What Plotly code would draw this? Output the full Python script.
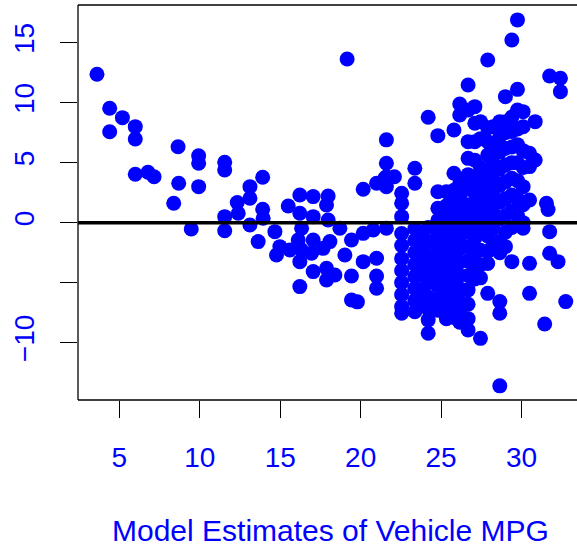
import plotly.graph_objects as go

# Fitted values (x) and residuals (y) of the mpg ~ horsepower model
fitted = [
    # low fitted values
    3.61, 4.40, 5.19, 5.99, 4.40, 5.99, 8.65, 9.93, 9.93, 11.55, 11.55, 5.99, 6.78, 7.16,
    8.69, 9.93, 8.38, 9.47, 11.55, 11.55, 12.33,
    # 13 - 21
    13.91, 13.12, 13.12, 12.39, 13.91, 13.94, 13.12, 13.63, 14.67, 15.50, 16.22, 17.05, 17.98,
    17.88, 16.22, 17.05, 17.98, 18.71, 16.33, 14.98, 14.77, 15.60, 16.12, 16.33, 17.05, 18.09,
    16.95, 17.67, 16.22, 17.05, 17.88, 17.88, 18.40, 16.22, 19.02, 19.43, 20.16, 20.78, 20.16,
    20.99, 19.43, 20.99, 20.99, 19.43, 19.80, 20.16, 20.99, 21.50, 19.16,
    # 21.6 - 22.1
    21.6, 21.6, 21.6, 21.6, 21.6, 22.1,
    # 22.55
    22.55, 22.55, 22.55, 22.55, 22.55, 22.55, 22.55, 22.55, 22.55, 22.55, 22.55,
    # 23.37
    23.37, 23.37, 23.37, 23.37, 23.37, 23.37, 23.37, 23.37, 23.37, 23.37,
    # 23.8
    23.8, 23.8, 23.8, 23.8, 23.8, 23.8,
    # 24.2
    24.2, 24.2, 24.2, 24.2, 24.2, 24.2, 24.2, 24.2, 24.2, 24.2,
    # 24.8
    24.8, 24.8, 24.8, 24.8, 24.8, 24.8, 24.8, 24.8, 24.8, 24.8, 24.8,
    # 25.33
    25.33, 25.33, 25.33, 25.33, 25.33, 25.33, 25.33, 25.33, 25.33, 25.33, 25.33,
    # 25.8
    25.8, 25.8, 25.8, 25.8, 25.8, 25.8, 25.8, 25.8, 25.8, 25.8, 25.8, 25.8, 25.8,
    # 26.16
    26.16, 26.16, 26.16, 26.16, 26.16, 26.16, 26.16, 26.16, 26.16, 26.16, 26.16, 26.16,
    26.16, 26.16,
    # 26.68
    26.68, 26.68, 26.68, 26.68, 26.68, 26.68, 26.68, 26.68, 26.68, 26.68, 26.68, 26.68,
    26.68, 26.68, 26.68, 26.68,
    # 27.1
    27.1, 27.1, 27.1, 27.1, 27.1, 27.1, 27.1, 27.1, 27.1, 27.1, 27.1, 27.1,
    # 27.45
    27.45, 27.45, 27.45, 27.45, 27.45, 27.45, 27.45, 27.45, 27.45, 27.45, 27.45,
    # 27.9
    27.9, 27.9, 27.9, 27.9, 27.9, 27.9, 27.9, 27.9, 27.9, 27.9, 27.9, 27.9,
    # 28.23
    28.23, 28.23, 28.23, 28.23, 28.23, 28.23, 28.23, 28.23,
    # 28.65
    28.65, 28.65, 28.65, 28.65, 28.65, 28.65, 28.65, 28.65, 28.65, 28.65, 28.65, 28.65,
    # 29.0
    29.0, 29.0, 29.0, 29.0, 29.0, 29.0, 29.0, 29.0, 29.0, 29.0,
    # 29.4
    29.4, 29.4, 29.4, 29.4, 29.4, 29.4, 29.4, 29.4, 29.4, 29.4,
    # 29.75
    29.75, 29.75, 29.75, 29.75, 29.75, 29.75, 29.75, 29.75, 29.75,
    # 30.1
    30.1, 30.1, 30.1, 30.1, 30.1, 30.1, 30.1, 30.1,
    # 30.5 - 30.85
    30.5, 30.5, 30.5, 30.5, 30.5, 30.85, 30.85,
    # high fitted values
    31.75, 32.42, 32.42, 31.55, 31.65, 31.75, 31.75, 32.27, 32.75, 31.44,
]

residuals = [
    12.37, 9.53, 8.75, 8.00, 7.58, 6.97, 6.33, 5.58, 4.95, 5.03, 4.39, 4.03, 4.20, 3.83,
    3.28, 3.00, 1.62, -0.53, 0.50, -0.67, 1.68,
    3.78, 3.00, 2.03, 0.78, 1.12, 0.37, -0.19, -1.58, -0.75, 1.39, 2.31, 2.17, 2.22,
    1.47, 0.78, 0.50, 0.22, -0.47, -0.47, -2.00, -2.69, -2.28, -1.44, -2.28, -1.44, -1.58,
    -2.55, -2.14, -3.25, -4.08, -3.80, -4.78, -4.36, -5.33, -2.69, -1.44, -0.89, -0.61, -3.25,
    -2.97, -4.44, -4.44, -5.47, -6.44, -6.60, 2.78, 3.28, 3.70, 13.64,
    6.90, 4.95, 3.83, 3.00, -0.47, 3.83,
    2.45, 1.62, 0.50, -0.90, -1.90, -3.00, -4.00, -5.00, -6.00, -7.00, -7.55,
    4.53, 3.28, -0.50, -1.50, -2.50, -3.50, -4.50, -5.50, -6.50, -7.42,
    -1.00, -2.20, -3.30, -4.40, -5.60, -6.70,
    8.78, -0.40, -1.60, -2.80, -3.90, -5.00, -6.20, -7.20, -8.10, -9.22,
    7.25, 2.58, 1.20, 0.20, -0.90, -2.00, -3.10, -4.20, -5.30, -6.40, -7.30,
    2.58, 1.40, 0.40, -0.70, -1.80, -2.90, -4.00, -5.10, -6.20, -7.20, -8.00,
    7.72, 4.12, 2.70, 1.60, 0.60, -0.40, -1.50, -2.60, -3.70, -4.80, -5.90, -7.00, -7.90,
    9.89, 8.97, 3.28, 2.20, 1.10, 0.00, -1.10, -2.20, -3.30, -4.40, -5.50, -6.60,
    -7.60, -8.30,
    11.47, 9.39, 6.75, 5.36, 4.00, 2.80, 1.50, 0.40, -0.80, -2.00, -3.20, -4.40,
    -5.60, -6.80, -8.00, -8.94,
    9.67, 8.28, 6.75, 5.20, 3.80, 2.50, 1.20, -0.10, -1.30, -2.50, -3.70, -4.70,
    8.42, 7.00, 4.60, 3.20, 1.80, 0.50, -0.80, -2.30, -3.50, -4.60, -9.64,
    13.56, 7.90, 6.75, 5.64, 4.20, 2.80, 1.50, 0.20, -1.10, -2.40, -3.40, -5.89,
    8.00, 6.50, 5.00, 3.60, 2.20, 0.80, -0.50, -1.80,
    8.42, 7.20, 5.90, 4.50, 3.10, 1.70, 0.30, -1.58, -2.50, -6.58, -7.55, -13.60,
    10.50, 8.42, 7.50, 6.20, 4.80, 3.40, 2.00, 0.60, -0.80, -2.00,
    15.22, 8.80, 7.60, 6.30, 5.00, 3.70, 2.30, 1.00, -0.40, -3.25,
    16.90, 11.11, 9.39, 7.80, 6.50, 5.00, 3.50, 2.00, 0.60,
    9.25, 8.00, 6.00, 4.60, 3.00, 1.50, 0.00, -0.47,
    5.78, 4.67, 1.89, -3.39, -5.89, 8.42, 5.22,
    12.22, 12.03, 10.92, 1.62, 1.10, -0.75, -2.55, -3.25, -6.58, -8.44,
]

x_ticks = [5, 10, 15, 20, 25, 30]
y_ticks = [-10, -5, 0, 5, 10, 15]
y_labels = ["\u221210", "", "0", "5", "10", "15"]

FONT = "Liberation Sans, Arial, Helvetica, sans-serif"
BLUE = "#0000FF"

fig = go.Figure(
    go.Scatter(
        x=fitted,
        y=residuals,
        mode="markers",
        marker=dict(size=15, color=BLUE, line=dict(width=0)),
        hoverinfo="x+y",
    )
)

axis_common = dict(
    showgrid=False,
    zeroline=False,
    showline=False,
    ticks="outside",
    ticklen=17,
    tickwidth=1.3,
    tickcolor="black",
    tickfont=dict(family=FONT, size=28, color=BLUE),
)

fig.update_xaxes(
    range=[2.43, 33.45],
    tickvals=x_ticks,
    ticktext=[str(v) for v in x_ticks],
    ticklabelstandoff=15,
    **axis_common,
)
fig.update_yaxes(
    range=[-14.78, 18.14],
    tickvals=y_ticks,
    ticktext=y_labels,
    tickangle=-90,
    ticklabelstandoff=15,
    **axis_common,
)

box = dict(type="line", xref="paper", yref="paper", line=dict(color="black", width=1.3))
fig.add_shape(x0=0, x1=0, y0=0, y1=1, **box)
fig.add_shape(x0=0, x1=1, y0=1, y1=1, **box)
fig.add_shape(x0=0, x1=1, y0=0, y1=0, **box)

# horizontal reference line at zero residual
fig.add_shape(
    type="line", xref="paper", yref="y", x0=0, x1=1, y0=0, y1=0,
    line=dict(color="black", width=3.5),
)

fig.add_annotation(
    text="Model Estimates of Vehicle MPG",
    xref="paper", yref="paper", x=0.506, y=-0.331,
    xanchor="center", yanchor="middle", showarrow=False,
    font=dict(family=FONT, size=30, color=BLUE),
)

fig.update_layout(
    width=577,
    height=550,
    margin=dict(l=78, r=0, t=5, b=150, pad=0),
    paper_bgcolor="white",
    plot_bgcolor="white",
    showlegend=False,
)

fig.write_html("out.html")
